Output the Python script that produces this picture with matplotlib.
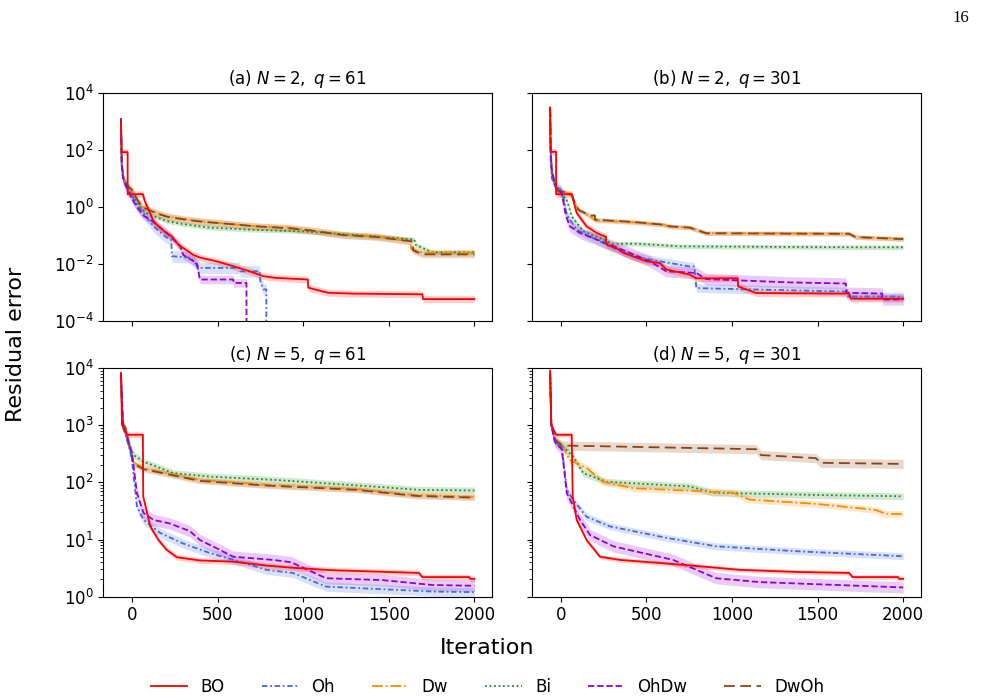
import numpy as np
import matplotlib
matplotlib.use("Agg")
import matplotlib.pyplot as plt
from matplotlib.ticker import LogLocator, NullLocator

plt.rcParams["font.family"] = "DejaVu Sans"

METHODS = ["BO", "Oh", "Dw", "Bi", "OhDw", "DwOh"]
TITLES = [r"(a) $N=2,\ q=61$", r"(b) $N=2,\ q=301$",
          r"(c) $N=5,\ q=61$", r"(d) $N=5,\ q=301$"]

# best-so-far residual error as (iteration, value) vertices;
# a repeated iteration marks a sudden drop. 1e-8 = fell below the plotted range.
PANEL_A = {
    "BO": ([-64, -60, -25, -25, 64, 75, 97, 126, 155, 203, 233, 271, 359, 397, 494, 591, 688, 766, 843, 1027, 1030, 1143, 1289, 1696, 1700, 2000],
           [900, 83, 83, 2.8, 2.8, 1.6, 0.81, 0.32, 0.21, 0.12, 0.093, 0.048, 0.021, 0.017, 0.0126, 0.0085, 0.0056, 0.0038, 0.0033, 0.0029, 0.0015, 0.001, 0.00093, 0.00088, 0.0006, 0.0006]),
    "Oh": ([-64, -60, -52, -39, -20, 0, 29, 68, 126, 194, 230, 233, 339, 397, 630, 632, 746, 750, 770, 785, 785, 2000],
           [900, 30, 10, 6, 4, 2.5, 1.2, 0.62, 0.21, 0.093, 0.07, 0.019, 0.017, 0.0074, 0.0074, 0.0056, 0.0056, 0.0025, 0.0013, 0.0013, 1e-8, 1e-8]),
    "Dw": ([-64, -60, -52, -39, -20, 0, 29, 60, 97, 150, 203, 300, 397, 550, 727, 920, 1050, 1230, 1424, 1628, 1630, 1700, 2000],
           [1100, 40, 12, 7, 5, 4, 1.8, 1.0, 0.81, 0.6, 0.47, 0.38, 0.32, 0.26, 0.21, 0.19, 0.15, 0.107, 0.093, 0.063, 0.034, 0.025, 0.025]),
    "Bi": ([-64, -60, -52, -39, -20, 0, 29, 60, 97, 150, 203, 300, 455, 700, 1005, 1424, 1650, 1655, 1754, 2000],
           [1000, 40, 12, 7, 5, 3.5, 1.5, 0.8, 0.55, 0.42, 0.32, 0.25, 0.19, 0.16, 0.14, 0.093, 0.072, 0.048, 0.026, 0.026]),
    "OhDw": ([-64, -60, -52, -39, -20, 0, 29, 68, 107, 203, 281, 300, 378, 397, 591, 595, 669, 669, 2000],
             [1200, 30, 10, 6, 3.5, 2, 1, 0.5, 0.36, 0.126, 0.043, 0.021, 0.011, 0.0029, 0.0029, 0.0022, 0.0022, 1e-8, 1e-8]),
    "DwOh": ([-64, -60, -52, -39, -20, 0, 29, 60, 97, 150, 203, 300, 397, 550, 727, 920, 1050, 1230, 1424, 1640, 1642, 1700, 2000],
             [1300, 45, 12, 7, 5, 4, 1.9, 1.0, 0.8, 0.58, 0.46, 0.37, 0.31, 0.26, 0.21, 0.18, 0.15, 0.105, 0.09, 0.062, 0.03, 0.022, 0.022]),
}
PANEL_B = {
    "BO": ([-62, -60, -55, -27, -27, 64, 80, 93, 151, 210, 258, 264, 266, 326, 365, 500, 578, 617, 753, 792, 1034, 1036, 1141, 1684, 1694, 2000],
           [3000, 100, 85, 85, 2.8, 2.8, 1.2, 0.62, 0.21, 0.123, 0.093, 0.093, 0.048, 0.036, 0.025, 0.0126, 0.011, 0.0065, 0.0043, 0.0032, 0.0032, 0.00166, 0.00098, 0.00093, 0.00062, 0.00062]),
    "Oh": ([-62, -58, -52, -30, 6, 35, 93, 171, 287, 423, 578, 753, 780, 792, 1660, 1680, 2000],
           [2000, 40, 10, 5, 4, 0.54, 0.16, 0.093, 0.042, 0.019, 0.0126, 0.0083, 0.0083, 0.00145, 0.0011, 0.00074, 0.00074]),
    "Dw": ([-62, -58, -52, -40, -23, 64, 80, 103, 171, 200, 423, 598, 636, 753, 850, 1684, 1723, 2000],
           [3000, 100, 15.5, 8, 4, 2.7, 1.5, 0.81, 0.47, 0.34, 0.29, 0.24, 0.21, 0.19, 0.123, 0.117, 0.089, 0.078]),
    "Bi": ([-62, -58, -52, -23, 0, 35, 64, 132, 268, 300, 442, 695, 1700, 2000],
           [2500, 60, 14, 4, 3, 1.8, 0.47, 0.14, 0.066, 0.052, 0.052, 0.042, 0.039, 0.039]),
    "OhDw": ([-62, -58, -52, -30, 6, 30, 54, 113, 287, 520, 617, 792, 850, 1335, 1665, 1670, 1878, 1880, 2000],
             [2500, 40, 20, 5, 3, 0.5, 0.21, 0.123, 0.048, 0.0126, 0.0056, 0.0049, 0.003, 0.0023, 0.0021, 0.001, 0.00093, 0.00058, 0.00058]),
    "DwOh": ([-62, -58, -52, -40, -23, 64, 80, 103, 171, 200, 200, 423, 598, 636, 753, 850, 1684, 1723, 2000],
             [3200, 110, 16, 8, 4, 2.8, 1.5, 0.8, 0.5, 0.5, 0.36, 0.3, 0.24, 0.21, 0.19, 0.12, 0.115, 0.088, 0.075]),
}
PANEL_C = {
    "BO": ([-64, -58, -52, -29, 64, 66, 107, 155, 203, 262, 397, 591, 785, 940, 1172, 1676, 1696, 1970, 1975, 2000],
           [8000, 1000, 950, 680, 680, 56, 17, 9.8, 6.6, 4.9, 4.3, 4.1, 3.5, 3.2, 2.9, 2.6, 2.2, 2.2, 2.05, 2.05]),
    "Oh": ([-64, -52, -39, -10, 0, 29, 68, 165, 300, 455, 630, 785, 940, 1134, 1754, 2000],
           [7000, 900, 700, 350, 250, 38, 22, 13, 8.5, 5.8, 4.1, 2.95, 2.6, 1.5, 1.23, 1.2]),
    "Dw": ([-64, -58, -52, -39, -10, 10, 68, 203, 397, 785, 1308, 1657, 2000],
           [8000, 2000, 1000, 950, 370, 220, 178, 145, 110, 91, 76, 60, 56]),
    "Bi": ([-64, -52, -39, -10, 10, 68, 242, 455, 843, 1347, 1676, 2000],
           [7000, 1000, 900, 400, 300, 230, 145, 126, 110, 87, 74, 72]),
    "OhDw": ([-64, -52, -39, -10, 0, 29, 68, 126, 223, 339, 397, 513, 591, 824, 930, 1134, 1463, 1754, 2000],
             [8000, 1000, 800, 400, 320, 65, 29, 22, 19, 14, 9.8, 6.6, 5.0, 4.4, 4.0, 2.1, 1.95, 1.6, 1.55]),
    "DwOh": ([-64, -58, -52, -39, -10, 10, 68, 203, 397, 785, 1308, 1657, 2000],
             [8500, 2000, 1000, 900, 360, 210, 170, 140, 106, 88, 74, 58, 54]),
}
PANEL_D = {
    "BO": ([-62, -55, -27, 64, 70, 93, 151, 229, 345, 617, 811, 1044, 1393, 1684, 1704, 1970, 1975, 2000],
           [9000, 1000, 680, 680, 56, 22, 9.8, 5.0, 4.4, 3.8, 3.4, 2.95, 2.7, 2.6, 2.2, 2.2, 2.05, 2.05]),
    "Oh": ([-62, -55, -33, 6, 35, 74, 151, 287, 617, 908, 1393, 2000],
           [8000, 1000, 500, 420, 74, 49, 25, 17, 10.7, 7.6, 6.2, 5.1]),
    "Dw": ([-62, -55, -33, 6, 54, 151, 248, 423, 1005, 1102, 1490, 1839, 1898, 2000],
           [8000, 1000, 550, 440, 245, 178, 102, 79, 66, 50, 42, 33, 28, 28]),
    "Bi": ([-62, -55, -33, 6, 74, 132, 268, 753, 889, 1510, 2000],
           [8000, 1000, 550, 440, 280, 145, 102, 85, 66, 60, 57]),
    "OhDw": ([-62, -55, -33, 6, 35, 113, 171, 307, 656, 908, 1160, 2000],
             [8000, 1000, 500, 380, 65, 22, 12, 7.6, 4.4, 2.1, 1.8, 1.45]),
    "DwOh": ([-62, -55, -33, 6, 210, 1141, 1170, 1490, 1519, 2000],
             [8000, 1000, 550, 440, 430, 380, 300, 265, 220, 210]),
}
# half-width of the shaded spread, in decades
BAND_A = {"BO": 0.12, "Oh": 0.2, "Dw": 0.12, "Bi": 0.08, "OhDw": 0.15, "DwOh": 0.12}
BAND_B = {"BO": 0.12, "Oh": 0.15, "Dw": 0.08, "Bi": 0.08, "OhDw": 0.2, "DwOh": 0.08}
BAND_C = {"BO": 0.05, "Oh": 0.08, "Dw": 0.05, "Bi": 0.06, "OhDw": 0.1, "DwOh": 0.05}
BAND_D = {"BO": 0.04, "Oh": 0.06, "Dw": 0.06, "Bi": 0.06, "OhDw": 0.1, "DwOh": 0.08}

COLORS = {"BO": "red", "Oh": "royalblue", "Dw": "darkorange",
          "Bi": "forestgreen", "OhDw": "darkviolet", "DwOh": "saddlebrown"}
STYLES = {"BO": "-", "Oh": (0, (3, 1.5, 1, 1.5)), "Dw": (0, (6, 1.6, 1, 1.6)),
          "Bi": (0, (1, 1.5)), "OhDw": (0, (3.5, 1.6)), "DwOh": (0, (6, 3))}
DRAW_ORDER = ["Bi", "Dw", "DwOh", "Oh", "OhDw", "BO"]

fig, axes = plt.subplots(2, 2, figsize=(9.81, 6.99), dpi=100, sharex=True, sharey="row")
fig.subplots_adjust(left=0.1053, right=0.9387, top=0.8674, bottom=0.1464,
                    wspace=0.103, hspace=0.2045)

panels = [PANEL_A, PANEL_B, PANEL_C, PANEL_D]
bands = [BAND_A, BAND_B, BAND_C, BAND_D]
handles = {}
for k, ax in enumerate(axes.flat):
    data = panels[k]
    for m in DRAW_ORDER:
        x = np.array(data[m][0], dtype=float)
        y = np.array(data[m][1], dtype=float)
        f = 10 ** bands[k][m]
        ax.fill_between(x, y / f, y * f, color=COLORS[m], alpha=0.2,
                        linewidth=0, zorder=1)
        ln, = ax.plot(x, y, color=COLORS[m], ls=STYLES[m], lw=1.3,
                      zorder=3 if m == "BO" else 2, label=m)
        handles[m] = ln
    ax.set_yscale("log")
    ax.set_title(TITLES[k], fontsize=12)
    ax.set_xticks([0, 500, 1000, 1500, 2000])
    ax.tick_params(labelsize=12)

for ax in axes[0]:
    ax.set_ylim(1e-4, 1e4)
axes[0, 0].set_yticks([1e-4, 1e-2, 1e0, 1e2, 1e4])
axes[0, 0].yaxis.set_minor_locator(NullLocator())
for ax in axes[1]:
    ax.set_ylim(1, 1e4)
axes[1, 0].yaxis.set_major_locator(LogLocator(base=10, numticks=10))
axes[1, 0].yaxis.set_minor_locator(LogLocator(base=10, subs=np.arange(2, 10), numticks=20))

fig.text(0.016, 0.507, "Residual error", rotation=90, fontsize=16,
         ha="center", va="center")
fig.text(0.497, 0.073, "Iteration", fontsize=16, ha="center", va="center")
fig.text(0.979, 0.974, "16", fontsize=12, family="Liberation Serif",
         ha="center", va="center")

fig.legend([handles[m] for m in METHODS], METHODS, loc="center", ncol=6,
           bbox_to_anchor=(0.497, 0.017), frameon=False, fontsize=12,
           handlelength=2.2, columnspacing=2.2)

fig.savefig("out.png", dpi=100)
